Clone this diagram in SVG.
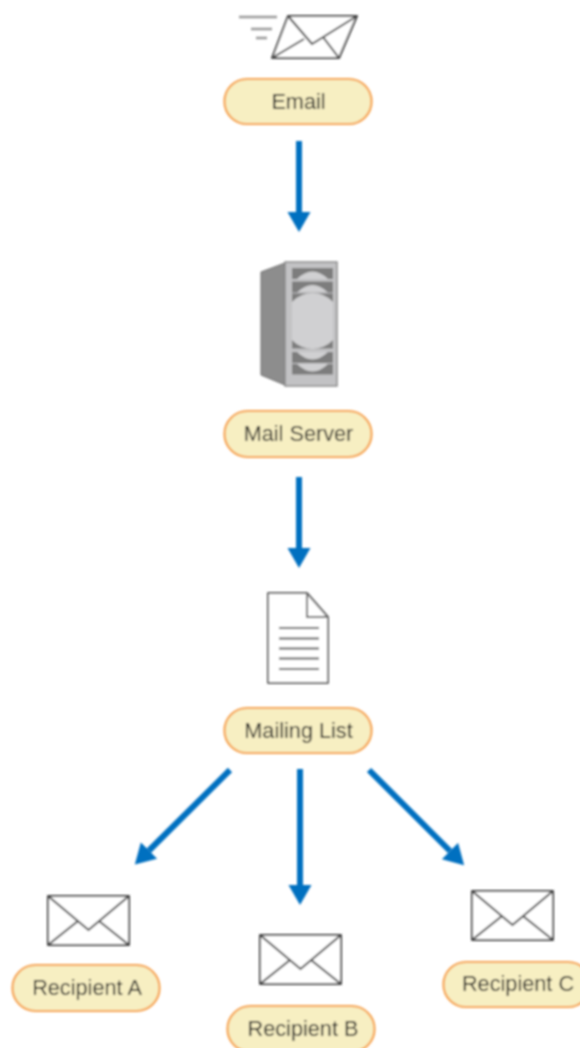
<svg xmlns="http://www.w3.org/2000/svg" width="580" height="1048" viewBox="0 0 580 1048">
<style>
.pill{fill:#f7efc2;stroke:#f6a24c;stroke-width:2.200}
.t{font-family:"Liberation Sans",Arial,sans-serif;font-size:21.7px;fill:#1c1c1c;text-anchor:middle}
.ic{fill:#fff;stroke:#444;stroke-width:2;stroke-linejoin:round}
.ln{fill:none;stroke:#444;stroke-width:2}
.c{fill:none;stroke:#0070c0;stroke-width:6}
.bay{fill:#7d7d7d}
.arc{fill:#d0d0d2}
</style>
<defs>
<filter id="soft" x="-5%" y="-5%" width="110%" height="110%"><feGaussianBlur stdDeviation="0.8"/></filter>
<marker id="head" markerUnits="userSpaceOnUse" markerWidth="22" markerHeight="24" refX="0" refY="11.5" orient="auto"><path d="M0 0L20 11.5L0 23Z" fill="#0070c0"/></marker>
<clipPath id="bigbay"><rect x="292" y="293" width="41" height="56"/></clipPath>
<g id="env"><rect class="ic" x="0" y="0" width="81" height="49"/><path class="ln" d="M0 0L40.500 34L81 0M0 49L30 25M81 49L51 25"/></g>
</defs>
<g filter="url(#soft)">
<g id="connectors">
<path class="c" d="M299 141V212" marker-end="url(#head)"/>
<path class="c" d="M299 477V548" marker-end="url(#head)"/>
<path class="c" d="M300 769V885" marker-end="url(#head)"/>
<path class="c" d="M230 770L149 850.500" marker-end="url(#head)"/>
<path class="c" d="M369 770L450 851" marker-end="url(#head)"/>
</g>
<g id="email">
<path class="ln" d="M239 17H277M251 29H272M256 38H267" style="stroke:#999;stroke-width:2.500"/>
<path class="ic" d="M288 16H357L339 58H272Z"/>
<path class="ln" d="M288 16L312 44L357 16M272 58L304 39M323 37L339 58"/>
<rect class="pill" x="224.500" y="79" width="147" height="45" rx="22.500"/>
<text class="t" x="298.500" y="109">Email</text>
</g>
<g id="mail-server">
<path fill="#8d8d8d" stroke="#6c6c6c" d="M261 272L285 263V385L261 375Z"/>
<rect x="285" y="262" width="52" height="124" fill="#c2c2c4" stroke="#8a8a8a" stroke-width="1.500"/>
<rect class="bay" x="292" y="268" width="41" height="11"/>
<path class="arc" d="M297 279Q312.500 264 328 279Z"/>
<rect class="bay" x="292" y="281.500" width="41" height="11"/>
<path class="arc" d="M297 292.500Q312.500 277.500 328 292.500Z"/>
<rect class="bay" x="292" y="293.500" width="41" height="55"/>
<circle class="arc" cx="312.500" cy="321" r="28" clip-path="url(#bigbay)"/>
<rect class="bay" x="292" y="352" width="41" height="11"/>
<path class="arc" d="M297 352Q312.500 367 328 352Z"/>
<rect class="bay" x="292" y="364" width="41" height="10.500"/>
<path class="arc" d="M297 364Q312.500 379 328 364Z"/>
<rect class="pill" x="224.500" y="411" width="147" height="46" rx="23"/>
<text class="t" x="298.500" y="441">Mail Server</text>
</g>
<g id="mailing-list">
<path class="ic" d="M268 593H307L328 617V683H268Z" style="stroke:#666"/>
<path class="ln" d="M307 593V617H328" style="stroke:#666"/>
<path class="ln" style="stroke:#555;stroke-width:2" d="M279 628H319M279 638.500H319M279 648.500H319M279 658.500H319M279 669H319"/>
<rect class="pill" x="224.500" y="708" width="147" height="45" rx="22.500"/>
<text class="t" x="298.500" y="738">Mailing List</text>
</g>
<g id="recipient-a">
<use href="#env" x="48" y="896"/>
<rect class="pill" x="12.500" y="965" width="147" height="46" rx="23"/>
<text class="t" x="87" y="995">Recipient A</text>
</g>
<g id="recipient-b">
<use href="#env" x="260" y="935"/>
<rect class="pill" x="227.500" y="1006" width="147" height="46" rx="23"/>
<text class="t" x="303" y="1036">Recipient B</text>
</g>
<g id="recipient-c">
<use href="#env" x="472" y="891"/>
<rect class="pill" x="443.500" y="962" width="147" height="45" rx="22.500"/>
<text class="t" x="518" y="991">Recipient C</text>
</g>
</g>
</svg>
